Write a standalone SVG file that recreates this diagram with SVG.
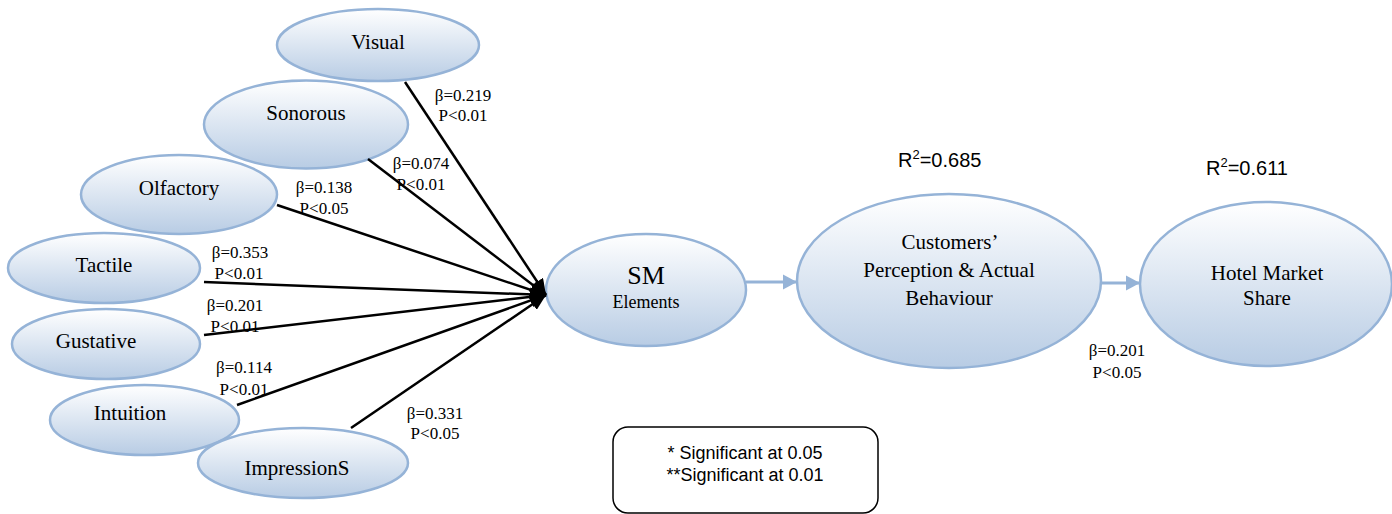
<svg xmlns="http://www.w3.org/2000/svg" width="1392" height="514" viewBox="0 0 1392 514">
<defs>
<linearGradient id="g" x1="0" y1="0" x2="0" y2="1">
<stop offset="0" stop-color="#FFFFFF"/>
<stop offset="1" stop-color="#B8CCE4"/>
</linearGradient>
<marker id="ab" markerUnits="userSpaceOnUse" markerWidth="18" markerHeight="14" refX="16" refY="7" orient="auto">
<path d="M0,0 L16,7 L0,14 z" fill="#000"/>
</marker>
<marker id="ag" markerUnits="userSpaceOnUse" markerWidth="16" markerHeight="16" refX="14" refY="8" orient="auto">
<path d="M0,0.5 L14,8 L0,15.5 z" fill="#95B3D7"/>
</marker>
<style>
.n{fill:url(#g);stroke:#95B3D7;stroke-width:2.5}
.t{font-family:"Liberation Serif","Times New Roman",serif;font-size:21px;fill:#000;text-anchor:middle}
.b{font-family:"Liberation Serif","Times New Roman",serif;font-size:17px;fill:#000;text-anchor:middle}
.r{font-family:"Liberation Sans",Arial,sans-serif;font-size:20px;fill:#000}
.l{font-family:"Liberation Sans",Arial,sans-serif;font-size:18px;fill:#000;text-anchor:middle}
.k{stroke:#000;stroke-width:2.5;fill:none;marker-end:url(#ab)}
.c{stroke:#95B3D7;stroke-width:3;fill:none;marker-end:url(#ag)}
</style>
</defs>

<g id="visual"><ellipse class="n" cx="378" cy="45" rx="101" ry="36"/><text class="t" x="378" y="49">Visual</text></g>
<g id="sonorous"><ellipse class="n" cx="306" cy="124.5" rx="102" ry="44"/><text class="t" x="306" y="120">Sonorous</text></g>
<g id="olfactory"><ellipse class="n" cx="179" cy="194.5" rx="98" ry="39.5"/><text class="t" x="179" y="195">Olfactory</text></g>
<g id="tactile"><ellipse class="n" cx="104" cy="268" rx="96" ry="35"/><text class="t" x="104" y="272">Tactile</text></g>
<g id="gustative"><ellipse class="n" cx="106" cy="344" rx="94" ry="35"/><text class="t" x="96" y="348">Gustative</text></g>
<g id="intuition"><ellipse class="n" cx="144.5" cy="420" rx="94.5" ry="35"/><text class="t" x="130" y="420">Intuition</text></g>
<g id="impressions"><ellipse class="n" cx="303" cy="463" rx="105" ry="35"/><text class="t" x="297" y="475">ImpressionS</text></g>
<g id="sm"><ellipse class="n" cx="646" cy="290" rx="100" ry="56"/><text class="t" x="646" y="284" style="font-size:26px">SM</text><text class="t" x="646" y="308" style="font-size:18px">Elements</text></g>
<g id="customers"><ellipse class="n" cx="949" cy="281" rx="152" ry="87"/><text class="t" x="950" y="249">Customers’</text><text class="t" x="949" y="277">Perception &amp; Actual</text><text class="t" x="949" y="305">Behaviour</text></g>
<g id="hotel"><ellipse class="n" cx="1266" cy="284" rx="126" ry="82"/><text class="t" x="1267" y="280">Hotel Market</text><text class="t" x="1267" y="305">Share</text></g>

<g id="connectors">
<line class="k" x1="405" y1="82" x2="546" y2="295"/>
<line class="k" x1="368" y1="159" x2="546" y2="295"/>
<line class="k" x1="277" y1="205" x2="546" y2="295"/>
<line class="k" x1="204" y1="282" x2="546" y2="295"/>
<line class="k" x1="204" y1="335" x2="546" y2="295"/>
<line class="k" x1="237" y1="405" x2="546" y2="295"/>
<line class="k" x1="351" y1="428" x2="546" y2="295"/>
<line class="c" x1="746" y1="282" x2="797" y2="282"/>
<line class="c" x1="1101" y1="283" x2="1140" y2="283"/>
</g>

<g id="labels">
<text class="b" x="463" y="101">β=0.219</text><text class="b" x="463" y="121">P&lt;0.01</text>
<text class="b" x="421" y="169">β=0.074</text><text class="b" x="421" y="190">P&lt;0.01</text>
<text class="b" x="324" y="193">β=0.138</text><text class="b" x="324" y="214">P&lt;0.05</text>
<text class="b" x="240" y="258">β=0.353</text><text class="b" x="239" y="279">P&lt;0.01</text>
<text class="b" x="235" y="311">β=0.201</text><text class="b" x="235" y="332">P&lt;0.01</text>
<text class="b" x="244" y="373">β=0.114</text><text class="b" x="244" y="395">P&lt;0.01</text>
<text class="b" x="435" y="419">β=0.331</text><text class="b" x="435" y="439">P&lt;0.05</text>
<text class="b" x="1117" y="356">β=0.201</text><text class="b" x="1117" y="378">P&lt;0.05</text>
<text class="r" x="898" y="167">R<tspan dy="-8" style="font-size:13px">2</tspan><tspan dy="8">=0.685</tspan></text>
<text class="r" x="1206" y="175">R<tspan dy="-8" style="font-size:13px">2</tspan><tspan dy="8">=0.611</tspan></text>
</g>

<g id="legend">
<rect x="613" y="427" width="265" height="86" rx="15" ry="15" fill="#fff" stroke="#000" stroke-width="1.5"/>
<text class="l" x="745" y="459">* Significant at 0.05</text>
<text class="l" x="745" y="481">**Significant at 0.01</text>
</g>
</svg>
